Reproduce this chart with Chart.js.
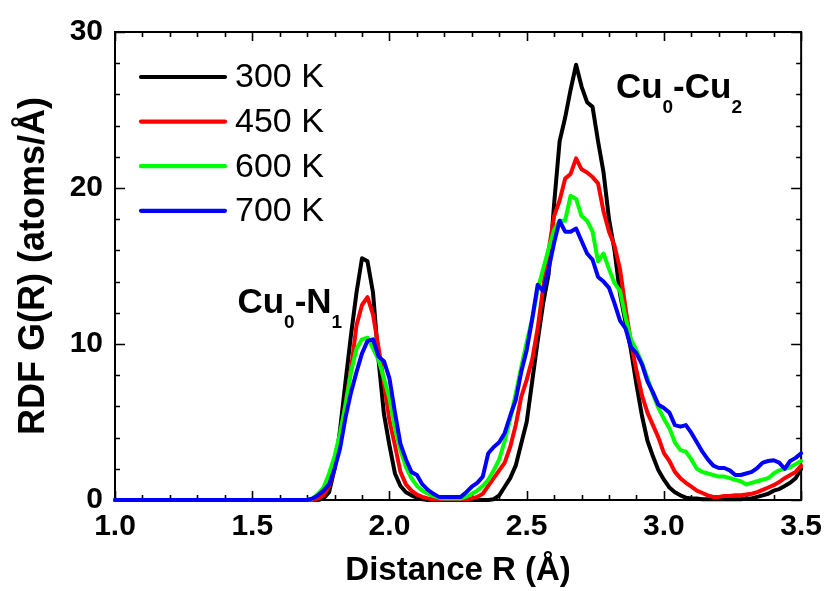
<!DOCTYPE html>
<html>
<head>
<meta charset="utf-8">
<script src="https://cdn.jsdelivr.net/npm/chart.js@4"></script>
<style>
  html, body { margin: 0; padding: 0; background: #ffffff; }
  #c { display: block; }
</style>
</head>
<body>
<canvas id="c" width="831" height="591"></canvas>
<script>
// ---------- data ----------
const R = [1.0, 1.1, 1.2, 1.3, 1.4, 1.5, 1.6,
  1.70, 1.72, 1.74, 1.76, 1.78, 1.80, 1.82, 1.84, 1.86, 1.88,
  1.90, 1.92, 1.94, 1.96, 1.98, 2.00, 2.02, 2.04, 2.06, 2.08,
  2.10, 2.12, 2.14, 2.16, 2.18, 2.20, 2.22, 2.24, 2.26, 2.28,
  2.30, 2.32, 2.34, 2.36, 2.38, 2.40, 2.42, 2.44, 2.46, 2.48,
  2.50, 2.52, 2.54, 2.56, 2.58, 2.60, 2.62, 2.64, 2.66, 2.68,
  2.70, 2.72, 2.74, 2.76, 2.78, 2.80, 2.82, 2.84, 2.86, 2.88,
  2.90, 2.92, 2.94, 2.96, 2.98, 3.00, 3.02, 3.04, 3.06, 3.08,
  3.10, 3.12, 3.14, 3.16, 3.18, 3.20, 3.22, 3.24, 3.26, 3.28,
  3.30, 3.32, 3.34, 3.36, 3.38, 3.40, 3.42, 3.44, 3.46, 3.48,
  3.50];

const seriesLabels = ['300 K', '450 K', '600 K', '700 K'];

const g300 = [0, 0, 0, 0, 0, 0, 0,
  0, 0, 0, 0.1, 0.5, 2.0, 4.5, 7.6, 10.6, 13.3,
  15.5, 15.3, 13.3, 9.0, 5.5, 3.5, 1.7, 0.9, 0.5, 0.3,
  0.15, 0.05, 0, 0, 0, 0, 0, 0, 0, 0,
  0, 0, 0, 0, 0.05, 0.3, 0.85, 1.4, 2.2, 3.6,
  5.0, 7.6, 10.2, 12.6, 14.5, 19.0, 23.0, 24.5, 26.3, 27.9,
  26.5, 25.5, 25.2, 23.0, 21.0, 18.0, 16.0, 13.2, 11.4, 9.6,
  7.4, 5.4, 3.8, 2.8, 1.9, 1.3, 0.8, 0.5, 0.3, 0.15,
  0.1, 0.1, 0.05, 0.05, 0.05, 0.05, 0.05, 0.05, 0.05, 0.05,
  0.1, 0.1, 0.2, 0.3, 0.4, 0.6, 0.7, 0.9, 1.1, 1.4,
  2.0];

const g450 = [0, 0, 0, 0, 0, 0, 0,
  0, 0, 0.1, 0.3, 0.9, 2.0, 4.0, 6.2, 8.4, 11.2,
  12.5, 13.0, 11.9, 9.8, 7.5, 5.1, 3.5, 1.8, 1.0, 0.6,
  0.35, 0.2, 0.1, 0.05, 0.05, 0.05, 0.05, 0.05, 0.05, 0.05,
  0.1, 0.2, 0.4, 0.9, 1.4, 1.9, 2.4, 3.4, 4.8, 6.6,
  7.7, 9.0, 11.0, 13.6, 16.0, 18.2, 19.2, 20.6, 20.9, 21.9,
  21.2, 21.0, 20.7, 20.3, 18.5, 17.2, 16.3, 14.8, 12.3, 10.1,
  8.3, 6.7, 5.6, 4.8, 4.0, 3.0, 2.5, 1.8, 1.4, 1.1,
  0.85, 0.6, 0.45, 0.3, 0.2, 0.2, 0.25, 0.25, 0.3, 0.3,
  0.35, 0.4, 0.5, 0.65, 0.8, 0.95, 1.15, 1.4, 1.6, 1.8,
  2.2];

const g600 = [0, 0, 0, 0, 0, 0, 0,
  0, 0.1, 0.4, 0.8, 1.7, 2.8, 4.3, 6.1, 8.2, 9.7,
  10.3, 10.4, 9.7, 9.0, 7.8, 6.5, 4.6, 3.2, 2.1, 1.4,
  0.9, 0.6, 0.4, 0.25, 0.15, 0.1, 0.1, 0.1, 0.1, 0.2,
  0.4, 0.6, 0.9, 1.3, 1.9, 2.6, 3.8, 5.2, 6.8, 8.5,
  10.1, 11.6, 13.5, 14.8, 16.1, 17.3, 17.9, 17.9, 19.5, 19.3,
  18.2, 17.9, 17.2, 15.3, 15.8, 14.8, 13.9, 13.4, 11.7, 10.3,
  9.6, 8.8, 7.8, 6.8, 5.9, 5.2, 4.6, 3.7, 3.2, 3.1,
  2.6, 2.0, 1.8, 1.7, 1.6, 1.5, 1.5, 1.4, 1.3, 1.2,
  1.0, 1.1, 1.2, 1.3, 1.4, 1.7, 1.9, 2.0, 2.1, 2.3,
  2.5];

const g700 = [0, 0, 0, 0, 0, 0, 0,
  0, 0.1, 0.3, 0.6, 1.0, 2.0, 3.3, 5.3, 6.9, 8.2,
  9.4, 10.2, 10.3, 9.2, 8.9, 7.8, 5.6, 3.6, 2.6, 1.8,
  1.6, 1.0, 0.65, 0.4, 0.2, 0.2, 0.2, 0.2, 0.2, 0.5,
  0.85, 1.1, 1.5, 3.0, 3.4, 3.7, 4.3, 5.4, 6.4, 8.2,
  9.6, 11.6, 13.8, 13.4, 14.8, 16.5, 17.9, 17.2, 17.2, 17.4,
  16.6, 15.8, 15.4, 14.3, 14.0, 13.6, 12.6, 11.5, 11.0, 9.8,
  9.4, 8.7, 7.6, 6.9, 6.1, 5.9, 5.6, 4.8, 4.7, 4.8,
  4.3, 3.7, 3.1, 2.6, 2.2, 2.05, 2.05, 1.9, 1.6, 1.6,
  1.7, 1.8, 2.05, 2.4, 2.5, 2.55, 2.4, 2.0, 2.5, 2.7,
  3.0];

const xTickLabels = ['1.0', '1.5', '2.0', '2.5', '3.0', '3.5'];
const yTickLabels = ['0', '10', '20', '30'];

// ---------- styling ----------
const FONT = '"Liberation Sans", Arial, Helvetica, sans-serif';
const seriesColors = ['#000000', '#ff0000', '#00ff00', '#0000ff'];
const seriesValues = [g300, g450, g600, g700];

const datasets = seriesValues.map((vals, i) => ({
  label: seriesLabels[i],
  data: R.map((r, j) => ({ x: r, y: vals[j] })),
  borderColor: seriesColors[i],
  backgroundColor: seriesColors[i],
  borderWidth: 4,
  pointRadius: 0,
  tension: 0,
  fill: false,
  clip: false,
  order: 4 - i,
  borderJoinStyle: 'round',
  borderCapStyle: 'round'
}));

// frame + inward ticks
const framePlugin = {
  id: 'frame',
  beforeDatasetsDraw(chart) {
    const { ctx, chartArea: a, scales } = chart;
    const xs = scales.x, ys = scales.y;
    ctx.save();
    ctx.strokeStyle = '#000';
    ctx.lineWidth = 2;
    ctx.lineCap = 'butt';
    ctx.strokeRect(a.left, a.top, a.right - a.left, a.bottom - a.top);
    ctx.lineWidth = 1.6;
    ctx.beginPath();
    for (let k = 10; k <= 35; k++) {
      const px = Math.round(xs.getPixelForValue(k / 10)) + 0.5;
      const len = (k % 5 === 0) ? 9 : 5;
      ctx.moveTo(px, a.bottom); ctx.lineTo(px, a.bottom - len);
      ctx.moveTo(px, a.top); ctx.lineTo(px, a.top + len);
    }
    for (let v = 0; v <= 30; v += 2) {
      const py = Math.round(ys.getPixelForValue(v)) + 0.5;
      const len = (v % 10 === 0) ? 10 : 5;
      ctx.moveTo(a.left, py); ctx.lineTo(a.left + len, py);
      ctx.moveTo(a.right, py); ctx.lineTo(a.right - len, py);
    }
    ctx.stroke();
    ctx.restore();
  }
};

// legend inside the plot + peak labels
function drawSubText(ctx, x, y, parts, size, subSize) {
  let cx = x;
  parts.forEach(p => {
    ctx.font = 'bold ' + (p.sub ? subSize : size) + 'px ' + FONT;
    ctx.fillText(p.t, cx, p.sub ? y + 15 : y);
    cx += ctx.measureText(p.t).width;
  });
}

const overlayPlugin = {
  id: 'overlay',
  afterDatasetsDraw(chart) {
    const { ctx, chartArea: a, scales } = chart;
    ctx.save();
    // legend
    const x0 = a.left + 26, x1 = a.left + 110, tx = a.left + 120;
    const y0 = a.top + 45, dy = 44.6;
    chart.data.datasets.forEach((ds, i) => {
      const y = y0 + i * dy;
      ctx.strokeStyle = ds.borderColor;
      ctx.lineWidth = 4.2;
      ctx.lineCap = 'round';
      ctx.beginPath(); ctx.moveTo(x0, y); ctx.lineTo(x1, y); ctx.stroke();
      ctx.fillStyle = '#000';
      ctx.font = '34px ' + FONT;
      ctx.textBaseline = 'middle';
      ctx.textAlign = 'left';
      ctx.fillText(ds.label, tx, y + 1);
    });
    // peak labels
    ctx.fillStyle = '#000';
    ctx.textBaseline = 'alphabetic';
    ctx.textAlign = 'left';
    const xs = scales.x, ys = scales.y;
    drawSubText(ctx, xs.getPixelForValue(1.446), ys.getPixelForValue(12.0),
      [{ t: 'Cu' }, { t: '0', sub: true }, { t: '-N' }, { t: '1', sub: true }], 35, 19);
    drawSubText(ctx, xs.getPixelForValue(2.825), ys.getPixelForValue(25.8),
      [{ t: 'Cu' }, { t: '0', sub: true }, { t: '-Cu' }, { t: '2', sub: true }], 35, 19);
    ctx.restore();
  }
};

new Chart(document.getElementById('c'), {
  type: 'line',
  data: { datasets },
  options: {
    responsive: false,
    animation: false,
    events: [],
    layout: { padding: { top: 32, right: 27, left: 0, bottom: 0 } },
    plugins: { legend: { display: false }, tooltip: { enabled: false } },
    scales: {
      x: {
        type: 'linear', min: 1.0, max: 3.5,
        grid: { display: false, drawTicks: false },
        border: { display: false },
        ticks: {
          stepSize: 0.5, padding: 9, color: '#000',
          font: { family: FONT, size: 30, weight: 'bold' },
          callback: (v) => { const i = Math.round((v - 1.0) / 0.5); return xTickLabels[i] ?? ''; },
          maxRotation: 0, autoSkip: false
        },
        title: {
          display: true, text: 'Distance R (Å)', color: '#000',
          font: { family: FONT, size: 33, weight: 'bold', lineHeight: 1.2 },
          padding: { top: 0, bottom: 0 }
        },
        afterFit: (s) => { s.height = 91; }
      },
      y: {
        type: 'linear', min: 0, max: 30,
        grid: { display: false, drawTicks: false },
        border: { display: false },
        ticks: {
          stepSize: 10, padding: 12, color: '#000',
          font: { family: FONT, size: 30, weight: 'bold' },
          callback: (v) => { const i = Math.round(v / 10); return yTickLabels[i] ?? ''; }
        },
        title: {
          display: true, text: 'RDF G(R) (atoms/Å)', color: '#000',
          font: { family: FONT, size: 36, weight: 'bold', lineHeight: 1.2 },
          padding: { top: 12, bottom: 0 }
        },
        afterFit: (s) => { s.width = 115; }
      }
    }
  },
  plugins: [framePlugin, overlayPlugin]
});
</script>
</body>
</html>
